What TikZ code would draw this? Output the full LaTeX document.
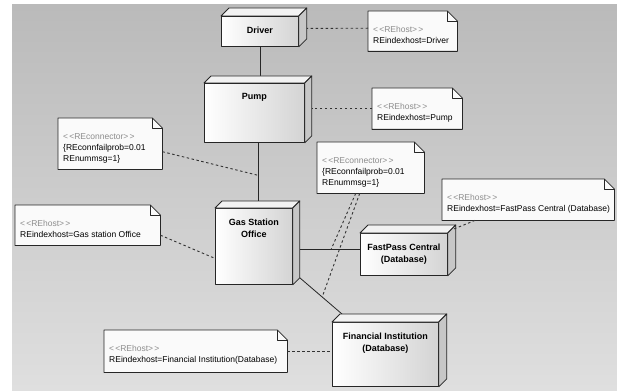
\documentclass[tikz,border=0pt]{standalone}
\usepackage{fontspec}
\setmainfont{Liberation Sans}
\definecolor{bgtop}{HTML}{BABABA}
\definecolor{bgbot}{HTML}{DFDFDF}
\definecolor{stereogray}{HTML}{8C8C8C}

% stereotype in gray
\newcommand{\stereo}[1]{{\color{stereogray}<\kern1.2pt<#1>\kern1.2pt>}}
% dog-eared note: name, north west corner, width, height, text
\newcommand{\umlnote}[5]{%
  \node[notearea, minimum width=#3, minimum height=#4] (#1) at #2 {};
  \draw[noteline] (#1.north west) -- ([xshift=-10pt]#1.north east) -- ([yshift=-10pt]#1.north east)
    -- (#1.south east) -- (#1.south west) -- cycle;
  \draw[noteline, fill=none] ([xshift=-10pt]#1.north east) |- ([yshift=-10pt]#1.north east);
  \node[notetext] (#1-t) at ([shift={(5pt,-15pt)}]#1.north west) {#5};
}

\begin{document}
\begin{tikzpicture}[x=1pt, y=-1pt, line join=round,
    host/.style={draw=black!85, line width=0.8pt, left color=white, right color=black!17, anchor=north west, inner sep=0pt},
    hostlabel/.style={anchor=north, yshift=-10.5pt, inner sep=0pt, align=center, font=\fontsize{9}{12.5}\selectfont\bfseries},
    topface/.style={draw=black!85, line width=0.8pt, fill=black!5},
    sideface/.style={draw=black!85, line width=0.8pt, fill=black!22},
    link/.style={draw=black!85, line width=0.8pt},
    noteline/.style={draw=black!85, fill=black!2, line width=0.8pt},
    notearea/.style={anchor=north west, inner sep=0pt},
    notetext/.style={anchor=north west, inner sep=0pt, align=left, font=\fontsize{8.5}{11}\selectfont},
    attach/.style={draw=black!80, line width=0.9pt, dash pattern=on 2.5pt off 2.5pt}]
  \useasboundingbox (0,0) rectangle (617,390);
  \shade[top color=bgtop, bottom color=bgbot] (12,5) rectangle (617,390);

  % hosts (front faces)
  \node[host, minimum width=77pt, minimum height=30pt, label={[hostlabel]north:Driver}] (driver) at (221,16) {};
  \node[host, minimum width=100pt, minimum height=59pt, label={[hostlabel]north:Pump}] (pump) at (204,83) {};
  \node[host, minimum width=77pt, minimum height=76pt, label={[hostlabel]north:Gas Station\\Office}] (gas) at (215,208) {};
  \node[host, minimum width=87pt, minimum height=42pt, label={[hostlabel]north:FastPass Central\\(Database)}] (fast) at (360,233) {};
  \node[host, minimum width=106pt, minimum height=64pt, label={[hostlabel]north:Financial Institution\\(Database)}] (fin) at (332,322) {};

  % links
  \draw[link] (driver.south) -- (driver.south |- pump.north);
  \draw[link] ([xshift=4pt]pump.south) -- coordinate[pos=0.5] (pg) ([xshift=4pt]pump.south |- gas.north);
  \draw[link] ([yshift=5pt]fast.west) -- coordinate[pos=0.43] (gf) ([yshift=5pt]fast.west -| gas.east);
  \draw[link] ([shift={(7pt,7pt)}]gas.south east) -- coordinate[pos=0.53] (gi) ([shift={(10pt,8pt)}]fin.north west);

  % top and side faces
  \foreach \n/\d in {driver/8pt, pump/7pt, gas/7pt, fast/8pt, fin/8pt} {
    \filldraw[topface] (\n.north west) -- ++(\d,\d) -- ([shift={(\d,\d)}]\n.north east) -- (\n.north east) -- cycle;
    \filldraw[sideface] (\n.north east) -- ++(\d,\d) -- ([shift={(\d,\d)}]\n.south east) -- (\n.south east) -- cycle;
  }

  % notes
  \umlnote{dnote}{(368,11)}{89pt}{40pt}{\stereo{REhost}\\REindexhost=Driver}
  \umlnote{pnote}{(372,88)}{90pt}{41pt}{\stereo{REhost}\\REindexhost=Pump}
  \umlnote{cnote}{(58,118)}{104pt}{51pt}{\stereo{REconnector}\\\{REconnfailprob=0.01\\REnummsg=1\}}
  \umlnote{gnote}{(15,205)}{145pt}{40pt}{\stereo{REhost}\\REindexhost=Gas station Office}
  \umlnote{knote}{(317,142)}{107pt}{51pt}{\stereo{REconnector}\\\{REconnfailprob=0.01\\REnummsg=1\}}
  \umlnote{fnote}{(442,179)}{172pt}{41pt}{\stereo{REhost}\\REindexhost=FastPass Central (Database)}
  \umlnote{inote}{(104,330)}{183pt}{42pt}{\stereo{REhost}\\REindexhost=Financial Institution(Database)}

  % note attachments
  \draw[attach] ([yshift=3pt]dnote.west) -- ([shift={(8pt,3pt)}]driver.east);
  \draw[attach] (pnote.west) -- ([xshift=7pt]pnote.west -| pump.east);
  \draw[attach] ([yshift=-8pt]cnote.east) -- (pg);
  \draw[attach] ([yshift=-10pt]gnote.east) -- ([yshift=-12pt]gas.west);
  \draw[attach] ([xshift=-15pt]knote.south) -- (gf);
  \draw[attach] ([xshift=-11pt]knote.south) -- (gi);
  \draw[attach] ([xshift=33pt]fnote.south west) -- ([shift={(6pt,4pt)}]fast.north east);
  \draw[attach] (inote.east) -- (inote.east -| fin.west);
\end{tikzpicture}
\end{document}
